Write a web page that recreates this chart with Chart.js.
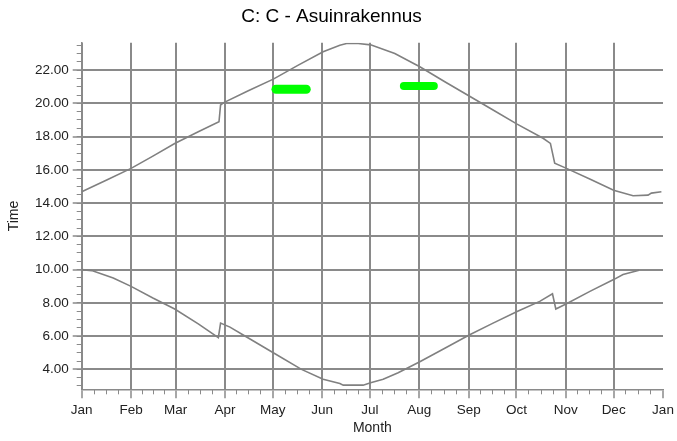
<!DOCTYPE html>
<html>
<head>
<meta charset="utf-8">
<style>
    html, body { margin: 0; padding: 0; background: #fff; }
    #wrap { width: 677px; height: 441px; }
</style>
<script src="https://cdn.jsdelivr.net/npm/chart.js@4.4.1/dist/chart.umd.min.js"></script>
</head>
<body>
<div id="wrap"><canvas id="chart"></canvas></div>
<script>
const monthLabels = ['Jan', 'Feb', 'Mar', 'Apr', 'May', 'Jun', 'Jul', 'Aug', 'Sep', 'Oct', 'Nov', 'Dec', 'Jan'];
const monthStartDays = [0, 31, 59, 90, 120, 151, 181, 212, 243, 273, 304, 334, 365];
const timeLabelValues = [4, 6, 8, 10, 12, 14, 16, 18, 20, 22];

// upper curve (sunset)
const sunsetDays = [0, 15.7, 31, 44.7, 58.4, 73.2, 86.2, 87.2, 88.9, 104.6, 120.3, 136, 151.6, 162.1, 166.3, 173.6,
    181.4, 196.6, 212.3, 228, 243.3, 258.3, 273.4, 289.7, 294.3, 297, 304.4, 319, 334, 346.2, 355.6, 357.7, 364];
const sunsetTimes = [14.68, 15.39, 16.09, 16.83, 17.59, 18.29, 18.89, 19.9, 20.03, 20.76, 21.46, 22.3, 23.1, 23.5, 23.6, 23.6,
    23.52, 23.0, 22.2, 21.3, 20.44, 19.6, 18.75, 17.9, 17.59, 16.4, 16.09, 15.45, 14.78, 14.44, 14.48, 14.6, 14.68];

// lower curve (sunrise)
const sunriseDays = [0, 6.3, 19.8, 31, 44.7, 58.4, 73.2, 85.8, 87.2, 93.1, 102.5, 120.3, 138, 151.6, 162.1, 164.2, 176.7,
    181.4, 189.3, 198.7, 212.3, 228, 243.3, 258.3, 273.4, 287.6, 295.6, 297.7, 304.4, 319.1, 334, 339.9, 350];
const sunriseTimes = [10.0, 9.94, 9.5, 8.99, 8.29, 7.63, 6.74, 5.91, 6.78, 6.54, 6.01, 5.0, 4.0, 3.4, 3.15, 3.05, 3.05,
    3.19, 3.4, 3.8, 4.46, 5.27, 6.07, 6.78, 7.48, 8.09, 8.55, 7.63, 7.95, 8.69, 9.4, 9.7, 9.96];

// green marks
const markOneDays = [122, 141];
const markOneTimes = [20.85, 20.85];
const markTwoDays = [202.3, 221.1];
const markTwoTimes = [21.05, 21.05];

const toPoints = (xs, ys) => xs.map((x, i) => ({ x: x, y: ys[i] }));

const minorDayTicks = [];
for (let i = 0; i < monthStartDays.length - 1; i++) {
    let s = monthStartDays[i], e = monthStartDays[i + 1];
    for (let k = 1; k < 4; k++) minorDayTicks.push(s + (e - s) * k / 4);
}
const minorTimeTicks = [];
for (let v = 3; v <= 23.5; v += 0.5) minorTimeTicks.push(v);

const gridGray = '#8a8a8a';
const lineGray = '#808080';
const labelFont = { family: '"Liberation Sans", Arial, sans-serif', size: 13.5 };
const titleFont = { family: '"Liberation Sans", Arial, sans-serif', size: 14 };

function noPadding(scale) {
    scale.paddingLeft = 0;
    scale.paddingRight = 0;
    scale.paddingTop = 0;
    scale.paddingBottom = 0;
}

new Chart(document.getElementById('chart'), {
    type: 'line',
    data: {
        datasets: [{
            data: toPoints(sunsetDays, sunsetTimes),
            borderColor: lineGray,
            borderWidth: 1.6,
            pointRadius: 0
        }, {
            data: toPoints(sunriseDays, sunriseTimes),
            borderColor: lineGray,
            borderWidth: 1.6,
            pointRadius: 0
        }, {
            data: toPoints(markOneDays, markOneTimes),
            borderColor: '#00ff00',
            borderWidth: 9,
            borderCapStyle: 'round',
            pointRadius: 0
        }, {
            data: toPoints(markTwoDays, markTwoTimes),
            borderColor: '#00ff00',
            borderWidth: 8,
            borderCapStyle: 'round',
            pointRadius: 0
        }]
    },
    options: {
        responsive: true,
        maintainAspectRatio: false,
        animation: false,
        layout: { padding: { top: 0, right: 14, bottom: 0, left: 0 } },
        plugins: {
            legend: { display: false },
            tooltip: { enabled: false },
            title: {
                display: true,
                text: 'C: C - Asuinrakennus',
                color: '#000',
                font: { family: '"Liberation Sans", Arial, sans-serif', size: 19, weight: 'normal' },
                padding: { top: 5.5, bottom: 14.4 }
            }
        },
        scales: {
            xMinor: {
                type: 'linear',
                position: 'bottom',
                weight: 0,
                min: 0,
                max: 365,
                afterBuildTicks: (scale) => { scale.ticks = minorDayTicks.map(v => ({ value: v })); },
                afterFit: (scale) => { scale.height = 0; noPadding(scale); },
                ticks: { display: false, autoSkip: false },
                grid: { drawOnChartArea: false, tickLength: 5, color: gridGray, lineWidth: 1 },
                border: { display: false }
            },
            x: {
                type: 'linear',
                position: 'bottom',
                weight: 1,
                min: 0,
                max: 365,
                afterBuildTicks: (scale) => { scale.ticks = monthStartDays.map(v => ({ value: v })); },
                afterFit: (scale) => { scale.height = 51.7; noPadding(scale); },
                ticks: {
                    autoSkip: false,
                    maxRotation: 0,
                    padding: 4,
                    color: '#222',
                    font: labelFont,
                    callback: (value, index) => monthLabels[index]
                },
                grid: {
                    tickLength: 9,
                    lineWidth: 2,
                    color: (ctx) => ctx.tick && ctx.tick.value === 365 ? 'rgba(0,0,0,0)' : gridGray,
                    tickColor: gridGray,
                    tickWidth: 1.5
                },
                border: { display: true, color: gridGray, width: 1.5 },
                title: {
                    display: true,
                    text: 'Month',
                    color: '#222',
                    font: titleFont,
                    padding: { top: 0, bottom: 4.5 }
                }
            },
            yMinor: {
                type: 'linear',
                position: 'left',
                weight: 0,
                min: 2.8,
                max: 23.65,
                afterBuildTicks: (scale) => { scale.ticks = minorTimeTicks.map(v => ({ value: v })); },
                afterFit: (scale) => { scale.width = 0; noPadding(scale); },
                ticks: { display: false, autoSkip: false },
                grid: { drawOnChartArea: false, tickLength: 5, color: gridGray, lineWidth: 1 },
                border: { display: false }
            },
            y: {
                type: 'linear',
                position: 'left',
                weight: 1,
                min: 2.8,
                max: 23.65,
                afterBuildTicks: (scale) => { scale.ticks = timeLabelValues.map(v => ({ value: v })); },
                afterFit: (scale) => { scale.width = 81.7; noPadding(scale); },
                ticks: {
                    autoSkip: false,
                    padding: 4,
                    color: '#222',
                    font: labelFont,
                    callback: (value) => value.toFixed(2)
                },
                grid: {
                    tickLength: 9,
                    lineWidth: 2,
                    color: gridGray,
                    tickWidth: 1.5
                },
                border: { display: true, color: gridGray, width: 1.5 },
                title: {
                    display: true,
                    text: 'Time',
                    color: '#222',
                    font: titleFont,
                    padding: { top: 5.6, bottom: 0 }
                }
            }
        }
    }
});
</script>
</body>
</html>
